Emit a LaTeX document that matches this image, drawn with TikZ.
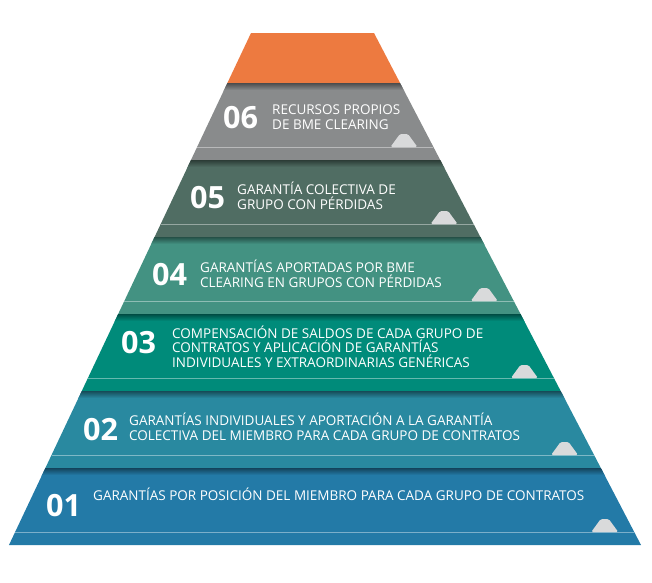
\documentclass[tikz,border=0pt]{standalone}
\usepackage{fontspec}
\setmainfont{Open Sans}
\definecolor{cOrange}{RGB}{237,122,64}
\definecolor{cSix}{RGB}{137,139,140}
\definecolor{cFive}{RGB}{80,109,99}
\definecolor{cFour}{RGB}{67,146,130}
\definecolor{cThree}{RGB}{0,139,122}
\definecolor{cTwo}{RGB}{41,137,160}
\definecolor{cOne}{RGB}{35,122,167}
\definecolor{cTab}{RGB}{217,218,219}
\tikzset{
  declare function={lx(\y)=251-0.4727*(\y-33); rx(\y)=374+0.5215*(\y-33);},
  num/.style={anchor=base west, inner sep=0pt, text=white, font=\bfseries\fontsize{30.6}{31}\selectfont},
  txt/.style={anchor=base west, inner sep=0pt, text=white, align=left, font=\fontsize{13.5}{14.5}\selectfont},
  tab/.style={fill=cTab, rounded corners=1.5pt},
}

\begin{document}
\begin{tikzpicture}[x=1pt, y=-1pt]
  \useasboundingbox (0,0) rectangle (652,582);
  % top block
  \fill[cOrange] (251,33) -- (374,33) -- ({rx(83)},83) -- ({lx(83)},83) -- cycle;
  % layers, top to bottom (text placed at its last baseline)
  \foreach \col/\n/\nx/\nb/\tx/\tb/\lines [count=\i from 0] in {
      cSix/06/223/128/272/129/{RECURSOS PROPIOS\\DE BME CLEARING},
      cFive/05/190/208/237/209/{GARANTÍA COLECTIVA DE\\GRUPO CON PÉRDIDAS},
      cFour/04/152/285/200/287/{GARANTÍAS APORTADAS POR BME\\CLEARING EN GRUPOS CON PÉRDIDAS},
      cThree/03/121/353/172/367/{COMPENSACIÓN DE SALDOS DE CADA GRUPO DE\\CONTRATOS Y APLICACIÓN DE GARANTÍAS\\INDIVIDUALES Y EXTRAORDINARIAS GENÉRICAS},
      cTwo/02/83/440/129/440/{GARANTÍAS INDIVIDUALES Y APORTACIÓN A LA GARANTÍA\\COLECTIVA DEL MIEMBRO PARA CADA GRUPO DE CONTRATOS},
      cOne/01/46/516/93/500/{GARANTÍAS POR POSICIÓN DEL MIEMBRO PARA CADA GRUPO DE CONTRATOS}}{
    \pgfmathsetmacro\yt{83+77*\i}
    \pgfmathsetmacro\yb{\yt+77}
    \pgfmathsetmacro\yl{\yt+64}
    \pgfmathsetmacro\xt{rx(\yl)-29.5}
    \fill[\col] ({lx(\yt)},\yt) -- ({rx(\yt)},\yt) -- ({rx(\yb)},\yb) -- ({lx(\yb)},\yb) -- cycle;
    % shadow under the top edge
    \begin{scope}
      \clip ({lx(\yt)},\yt) -- ({rx(\yt)},\yt) -- ({rx(\yb)},\yb) -- ({lx(\yb)},\yb) -- cycle;
      \shade[top color=\col!55!black, bottom color=\col] (0,\yt) rectangle (652,\yt+7);
    \end{scope}
    \draw[white, opacity=.4, line width=.8pt] ({lx(\yl)},\yl) -- ({rx(\yl)},\yl);
    \fill[tab] (\xt-13.5,\yl) -- (\xt-4,\yl-13) -- (\xt+4,\yl-13) -- (\xt+13.5,\yl) -- cycle;
    \node[num] (num\n) at (\nx,\nb) {\n};
    \node[txt] (txt\n) at (\tx,\tb) {\lines};
  }
\end{tikzpicture}
\end{document}
